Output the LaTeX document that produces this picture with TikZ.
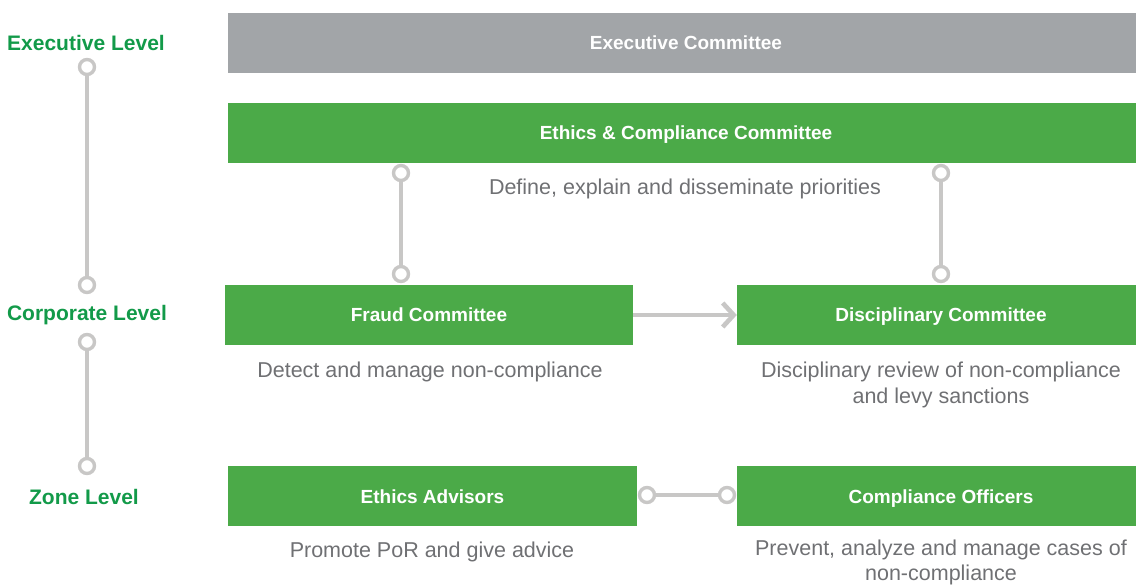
\documentclass[tikz,border=0pt]{standalone}
\usepackage{fontspec}
\setmainfont{Liberation Sans}
\usetikzlibrary{arrows.meta}
\definecolor{boxgreen}{HTML}{4BAA48}
\definecolor{boxgray}{HTML}{A2A5A8}
\definecolor{lvlgreen}{HTML}{129A49}
\definecolor{linegray}{HTML}{C8C7C6}
\definecolor{descgray}{HTML}{6F7073}
\tikzset{
  greenbox/.style={rectangle, fill=boxgreen, minimum height=60pt, inner sep=0pt, text height=14pt, text depth=0pt, text=white, font=\fontsize{19}{23}\selectfont\bfseries},
  graybox/.style={greenbox, fill=boxgray},
  lvl/.style={text=lvlgreen, font=\fontsize{21}{25}\selectfont\bfseries, inner sep=0pt},
  desc/.style={text=descgray, font=\fontsize{21.5}{26}\selectfont, align=center, inner sep=0pt},
  dot/.style={circle, draw=linegray, fill=white, line width=3.4pt, minimum size=15pt, inner sep=0pt},
  link/.style={draw=linegray, line width=4.2pt},
}
\begin{document}
\begin{tikzpicture}[x=1pt,y=-1pt]
\useasboundingbox (0,0) rectangle (1136,585);
% boxes
\node[graybox, minimum width=916pt] (exec) at (686,43) {Executive Committee};
\node[greenbox, minimum width=916pt] (ecc) at (686,133) {Ethics \& Compliance Committee};
\node[greenbox, minimum width=408pt] (fraud) at (429,315) {Fraud Committee};
\node[greenbox, minimum width=408pt] (disc) at (941,315) {Disciplinary Committee};
\node[greenbox, minimum width=409pt] (adv) at (432.5,496) {Ethics Advisors};
\node[greenbox, minimum width=408pt] (comp) at (941,496) {Compliance Officers};
% level labels
\node[lvl] (lexec) at (86,43) {Executive Level};
\node[lvl] (lcorp) at (87,315) {Corporate Level};
\node[lvl] (lzone) at (84,497) {Zone Level};
% descriptions
\node[desc] (d1) at (685,189) {Define, explain and disseminate priorities};
\node[desc] (d2) at (430,372) {Detect and manage non-compliance};
\node[desc] (d3) at (941,385) {Disciplinary review of non-compliance\\and levy sanctions};
\node[desc] (d4) at (432,552) {Promote PoR and give advice};
\node[desc, font=\fontsize{21.5}{25}\selectfont] (d5) at (941,562) {Prevent, analyze and manage cases of\\non-compliance};
% left timeline
\draw[link] (87,67) coordinate (t1) -- (87,285) coordinate (t2);
\draw[link] (87,342) coordinate (t3) -- (87,466) coordinate (t4);
\node[dot] (c1) at (t1) {};
\node[dot] (c2) at (t2) {};
\node[dot] (c3) at (t3) {};
\node[dot] (c4) at (t4) {};
% vertical connectors
\draw[link] (401,173) coordinate (v1a) -- (401,274) coordinate (v1b);
\node[dot] (cv1a) at (v1a) {};
\node[dot] (cv1b) at (v1b) {};
\draw[link] (941,173) coordinate (v2a) -- (941,274) coordinate (v2b);
\node[dot] (cv2a) at (v2a) {};
\node[dot] (cv2b) at (v2b) {};
% arrow
\draw[link, -{Straight Barb[length=11pt, width=24pt, line width=4.6pt]}] (fraud.east) -- (disc.west);
% horizontal link
\draw[link] (647,495) coordinate (h1) -- (727,495) coordinate (h2);
\node[dot] (ch1) at (h1) {};
\node[dot] (ch2) at (h2) {};
\end{tikzpicture}
\end{document}
